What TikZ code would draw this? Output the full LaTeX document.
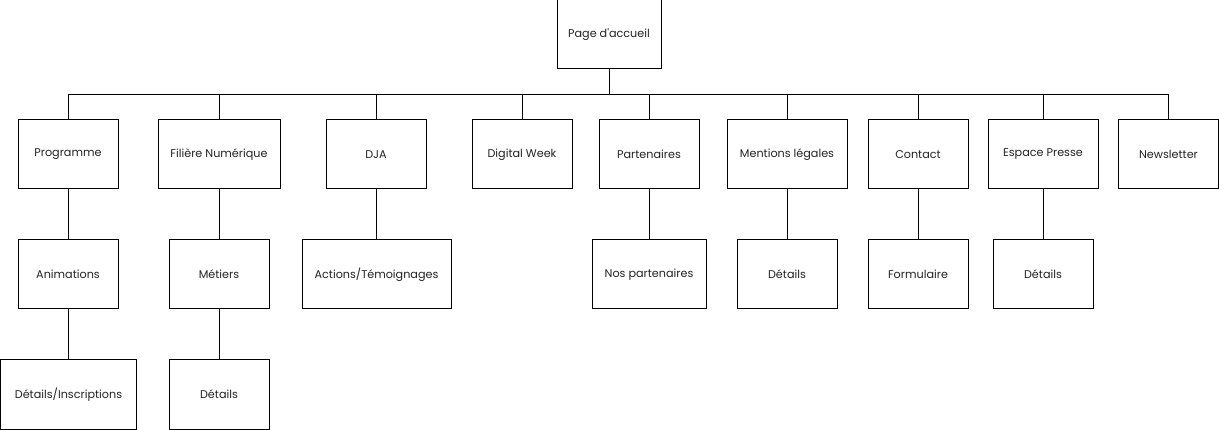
\documentclass[tikz,border=0pt]{standalone}
\usepackage{fontspec}
\setmainfont{Poppins}
\usepackage{tikz}
\definecolor{textgray}{HTML}{222222}
\tikzstyle{page} = [rectangle, minimum width=100pt, minimum height=69pt, text centered, draw=black, line width=1pt, text=textgray, font=\fontsize{11.2}{13}\selectfont]
\tikzstyle{link} = [line width=1pt, draw=black]

\begin{document}
\begin{tikzpicture}[x=1pt, y=-1pt]
      \useasboundingbox (0,0) rectangle (1219,430);
      \node (home) [page, minimum width=104pt] at (609,34.5) {Page d\textquotesingle accueil};
      \coordinate (bus) at (609,95);

      \node (prog) [page] at (68,154.5) {Programme};
      \node (filiere) [page, minimum width=122pt] at (219,154.5) {Filière Numérique};
      \node (dja) [page] at (376,154.5) {DJA};
      \node (digital) [page] at (522,154.5) {Digital Week};
      \node (partners) [page] at (649,154.5) {Partenaires};
      \node (legal) [page, minimum width=120pt] at (787,154.5) {Mentions légales};
      \node (contact) [page] at (918,154.5) {Contact};
      \node (press) [page, minimum width=110pt] at (1043,154.5) {Espace Presse};
      \node (news) [page] at (1168.5,154.5) {Newsletter};

      \node (anim) [page] at (68,274.5) {Animations};
      \node (jobs) [page] at (219,274.5) {Métiers};
      \node (actions) [page, minimum width=149pt] at (376.5,274.5) {Actions/Témoignages};
      \node (ourpartners) [page, minimum width=114pt] at (649,274.5) {Nos partenaires};
      \node (legaldet) [page] at (787,274.5) {Détails};
      \node (form) [page] at (918,274.5) {Formulaire};
      \node (pressdet) [page] at (1043,274.5) {Détails};

      \node (register) [page, minimum width=136pt] at (68.5,394.5) {Détails/Inscriptions};
      \node (jobsdet) [page] at (219,394.5) {Détails};

      \draw[link] (home.south) -- (home |- bus);
      \draw[link] (home |- bus) -| (prog.north);
      \draw[link] (home |- bus) -| (filiere.north);
      \draw[link] (home |- bus) -| (dja.north);
      \draw[link] (home |- bus) -| (digital.north);
      \draw[link] (home |- bus) -| (partners.north);
      \draw[link] (home |- bus) -| (legal.north);
      \draw[link] (home |- bus) -| (contact.north);
      \draw[link] (home |- bus) -| (press.north);
      \draw[link] (home |- bus) -| (news.north);

      \draw[link] (prog) -- (anim);
      \draw[link] (anim.south) -- (anim.south |- register.north);
      \draw[link] (filiere) -- (jobs);
      \draw[link] (jobs) -- (jobsdet);
      \draw[link] (dja.south) -- (dja.south |- actions.north);
      \draw[link] (partners) -- (ourpartners);
      \draw[link] (legal) -- (legaldet);
      \draw[link] (contact) -- (form);
      \draw[link] (press) -- (pressdet);
    \end{tikzpicture}
\end{document}
